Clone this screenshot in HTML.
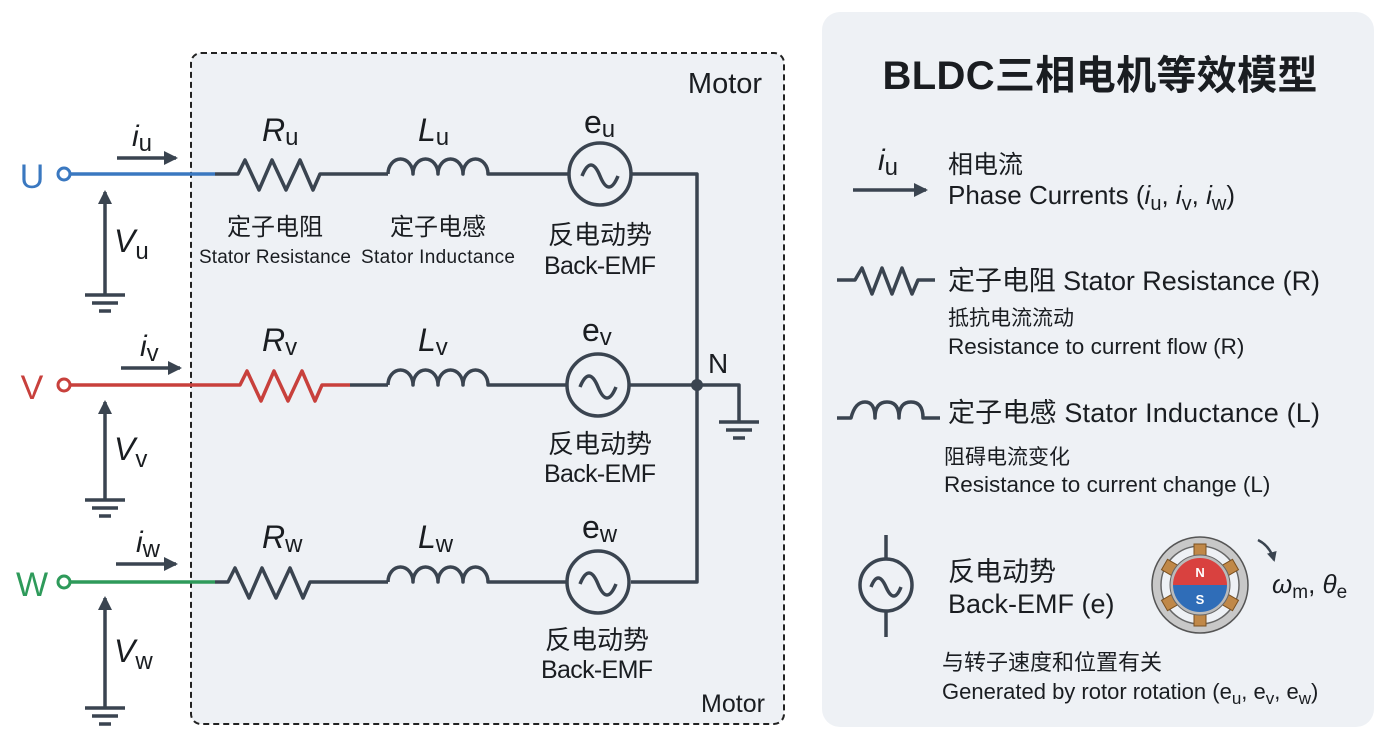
<!DOCTYPE html>
<html><head><meta charset="utf-8"><style>
body{margin:0;background:#fff}
text{font-family:"Liberation Sans","Noto Sans CJK SC",sans-serif;fill:#1a1d21}
.w{stroke:#3a4450;stroke-width:3.5;fill:none;stroke-linejoin:round}
.it{font-style:italic}
</style></head><body>
<svg width="1400" height="750" viewBox="0 0 1400 750" xmlns="http://www.w3.org/2000/svg">
<defs>
<marker id="ah" markerWidth="10" markerHeight="10" refX="8" refY="5" orient="auto" markerUnits="userSpaceOnUse"><path d="M0,0 L10,5 L0,10 Z" fill="#3a4450"/></marker>
<marker id="ah2" markerWidth="14" markerHeight="14" refX="12" refY="7" orient="auto" markerUnits="userSpaceOnUse"><path d="M0,0 L14,7 L0,14 Z" fill="#3a4450"/></marker>
</defs>
<rect x="822" y="12" width="552" height="715" rx="18" fill="#eef1f5"/>
<rect x="191" y="53" width="593" height="671" rx="10" fill="#eef1f5" stroke="#222" stroke-width="2" stroke-dasharray="6,4"/>
<text x="725" y="93" font-size="29" text-anchor="middle">Motor</text>
<text x="733" y="712" font-size="25" text-anchor="middle">Motor</text>

<!-- U row -->
<g>
<circle cx="64" cy="174" r="6" fill="#fff" stroke="#3a78c0" stroke-width="3"/>
<text x="32" y="188" font-size="34" text-anchor="middle" style="fill:#3a78c0">U</text>
<line x1="70" y1="174" x2="215" y2="174" stroke="#3a78c0" stroke-width="3.5"/>
<polyline class="w" points="215,174 238,174 245,160 259,190 272,160 286,190 300,160 313,190 320,174 388,174"/>
<path class="w" d="M388,174 a12.5,15 0 0 1 25,0 a12.5,15 0 0 1 25,0 a12.5,15 0 0 1 25,0 a12.5,15 0 0 1 25,0 L569,174"/>
<circle class="w" cx="600" cy="174" r="31"/>
<path class="w" d="M582,176 q9,-22 18,0 t18,0"/>
<polyline class="w" points="631,174 697,174 697,582 631,582"/>
<line x1="117" y1="158" x2="176" y2="158" class="w" marker-end="url(#ah2)"/>
<text x="132" y="146" font-size="30"><tspan class="it">i</tspan><tspan font-size="24" dy="5">u</tspan></text>
<line x1="105" y1="295" x2="105" y2="192" class="w" marker-end="url(#ah2)"/>
<text x="114" y="252" font-size="32"><tspan class="it">V</tspan><tspan font-size="24" dy="7">u</tspan></text>
<path class="w" d="M85,295 h40 M92,303 h26 M99,311 h12"/>
<text x="262" y="141" font-size="32"><tspan class="it">R</tspan><tspan font-size="24" dy="4">u</tspan></text>
<text x="418" y="141" font-size="32"><tspan class="it">L</tspan><tspan font-size="24" dy="4">u</tspan></text>
<text x="584" y="133" font-size="32">e<tspan font-size="24" dy="4">u</tspan></text>
<text x="275" y="235" font-size="24" text-anchor="middle">定子电阻</text>
<text x="275" y="263" font-size="19" text-anchor="middle" textLength="152">Stator Resistance</text>
<text x="438" y="235" font-size="24" text-anchor="middle">定子电感</text>
<text x="438" y="263" font-size="19" text-anchor="middle" textLength="154">Stator Inductance</text>
<text x="600" y="244" font-size="26" text-anchor="middle">反电动势</text>
<text x="600" y="274" font-size="25" text-anchor="middle" textLength="112">Back-EMF</text>
</g>

<!-- V row -->
<g>
<circle cx="64" cy="385" r="6" fill="#fff" stroke="#c8403c" stroke-width="3"/>
<text x="32" y="399" font-size="34" text-anchor="middle" style="fill:#c8403c">V</text>
<polyline points="70,385 240,385 247,371 261,401 274,371 288,401 302,371 315,401 322,385 350,385" fill="none" stroke="#c8403c" stroke-width="3.5" stroke-linejoin="round"/>
<line class="w" x1="350" y1="385" x2="388" y2="385"/>
<path class="w" d="M388,385 a12.5,15 0 0 1 25,0 a12.5,15 0 0 1 25,0 a12.5,15 0 0 1 25,0 a12.5,15 0 0 1 25,0 L567,385"/>
<circle class="w" cx="598" cy="385" r="31"/>
<path class="w" d="M580,387 q9,-22 18,0 t18,0"/>
<line class="w" x1="629" y1="385" x2="697" y2="385"/>
<circle cx="697" cy="385" r="6" fill="#3a4450"/>
<polyline class="w" points="697,385 739,385 739,422"/>
<path class="w" d="M719,422 h40 M726,430 h26 M733,438 h12"/>
<text x="708" y="373" font-size="28">N</text>
<line x1="121" y1="368" x2="180" y2="368" class="w" marker-end="url(#ah2)"/>
<text x="140" y="356" font-size="30"><tspan class="it">i</tspan><tspan font-size="24" dy="5">v</tspan></text>
<line x1="105" y1="500" x2="105" y2="402" class="w" marker-end="url(#ah2)"/>
<text x="114" y="460" font-size="32"><tspan class="it">V</tspan><tspan font-size="24" dy="7">v</tspan></text>
<path class="w" d="M85,500 h40 M92,508 h26 M99,516 h12"/>
<text x="262" y="351" font-size="32"><tspan class="it">R</tspan><tspan font-size="24" dy="4">v</tspan></text>
<text x="418" y="351" font-size="32"><tspan class="it">L</tspan><tspan font-size="24" dy="4">v</tspan></text>
<text x="582" y="341" font-size="32">e<tspan font-size="24" dy="4">v</tspan></text>
<text x="600" y="453" font-size="26" text-anchor="middle">反电动势</text>
<text x="600" y="482" font-size="25" text-anchor="middle" textLength="112">Back-EMF</text>
</g>

<!-- W row -->
<g>
<circle cx="64" cy="582" r="6" fill="#fff" stroke="#2e9a5a" stroke-width="3"/>
<text x="32" y="596" font-size="34" text-anchor="middle" style="fill:#2e9a5a">W</text>
<line x1="70" y1="582" x2="215" y2="582" stroke="#2e9a5a" stroke-width="3.5"/>
<polyline class="w" points="215,582 228,582 235,568 249,598 262,568 276,598 290,568 303,598 310,582 388,582"/>
<path class="w" d="M388,582 a12.5,15 0 0 1 25,0 a12.5,15 0 0 1 25,0 a12.5,15 0 0 1 25,0 a12.5,15 0 0 1 25,0 L567,582"/>
<circle class="w" cx="598" cy="582" r="31"/>
<path class="w" d="M580,584 q9,-22 18,0 t18,0"/>
<line x1="116" y1="564" x2="176" y2="564" class="w" marker-end="url(#ah2)"/>
<text x="136" y="552" font-size="30"><tspan class="it">i</tspan><tspan font-size="24" dy="5">w</tspan></text>
<line x1="105" y1="708" x2="105" y2="598" class="w" marker-end="url(#ah2)"/>
<text x="114" y="662" font-size="32"><tspan class="it">V</tspan><tspan font-size="24" dy="7">w</tspan></text>
<path class="w" d="M85,708 h40 M92,716 h26 M99,724 h12"/>
<text x="262" y="548" font-size="32"><tspan class="it">R</tspan><tspan font-size="24" dy="4">w</tspan></text>
<text x="418" y="548" font-size="32"><tspan class="it">L</tspan><tspan font-size="24" dy="4">w</tspan></text>
<text x="582" y="538" font-size="32">e<tspan font-size="24" dy="4">w</tspan></text>
<text x="597" y="649" font-size="26" text-anchor="middle">反电动势</text>
<text x="597" y="678" font-size="25" text-anchor="middle" textLength="112">Back-EMF</text>
</g>

<!-- Right panel -->
<text x="1100" y="89" font-size="40" font-weight="bold" text-anchor="middle" textLength="435">BLDC三相电机等效模型</text>
<line x1="853" y1="190" x2="926" y2="190" class="w" marker-end="url(#ah2)"/>
<text x="878" y="170" font-size="30"><tspan class="it">i</tspan><tspan font-size="24" dy="5">u</tspan></text>
<text x="948" y="173" font-size="25">相电流</text>
<text x="948" y="204" font-size="26">Phase Currents (<tspan class="it">i</tspan><tspan font-size="20" dy="6">u</tspan><tspan dy="-6">, </tspan><tspan class="it">i</tspan><tspan font-size="20" dy="6">v</tspan><tspan dy="-6">, </tspan><tspan class="it">i</tspan><tspan font-size="20" dy="6">w</tspan><tspan dy="-6">)</tspan></text>

<polyline class="w" points="837,280 855,280 862,268 872,294 882,268 892,294 902,268 912,294 918,280 935,280"/>
<text x="948" y="290" font-size="27" textLength="372">定子电阻 Stator Resistance (R)</text>
<text x="948" y="325" font-size="21">抵抗电流流动</text>
<text x="948" y="354" font-size="22.5">Resistance to current flow (R)</text>

<path class="w" d="M837,418 h14 q4,-16 14,-16 q10,0 10,16 q0,-16 12,-16 q12,0 12,16 q0,-16 12,-16 q12,0 12,16 h17"/>
<text x="948" y="422" font-size="27" textLength="372">定子电感 Stator Inductance (L)</text>
<text x="944" y="464" font-size="21">阻碍电流变化</text>
<text x="944" y="492" font-size="22.5">Resistance to current change (L)</text>

<circle class="w" cx="886" cy="585" r="26"/>
<path class="w" d="M886,535 v24 M886,611 v26 M871,587 q7,-18 15,0 t15,0"/>
<text x="948" y="581" font-size="27">反电动势</text>
<text x="948" y="613" font-size="27">Back-EMF (e)</text>

<g transform="translate(1200,585)">
<circle r="48" fill="#c8c8c8" stroke="#555" stroke-width="1.5"/>
<circle r="39" fill="#eef1f5" stroke="#666" stroke-width="1.5"/>
<g fill="#c08848" stroke="#7a5020" stroke-width="1">
<rect x="-6" y="-41" width="12" height="12" transform="rotate(0)"/>
<rect x="-6" y="-41" width="12" height="12" transform="rotate(60)"/>
<rect x="-6" y="-41" width="12" height="12" transform="rotate(120)"/>
<rect x="-6" y="-41" width="12" height="12" transform="rotate(180)"/>
<rect x="-6" y="-41" width="12" height="12" transform="rotate(240)"/>
<rect x="-6" y="-41" width="12" height="12" transform="rotate(300)"/>
</g>
<circle r="30" fill="#bbb" stroke="#666" stroke-width="1"/>
<path d="M-27,0 A27,27 0 0 1 27,0 Z" fill="#d9413f"/>
<path d="M-27,0 A27,27 0 0 0 27,0 Z" fill="#2f6db8"/>
<text x="0" y="-8" font-size="13" font-weight="bold" text-anchor="middle" style="fill:#fff">N</text>
<text x="0" y="19" font-size="13" font-weight="bold" text-anchor="middle" style="fill:#fff">S</text>
</g>
<path d="M1258,540 q12,6 16,20" stroke="#3a4450" stroke-width="2.5" fill="none" marker-end="url(#ah)"/>
<text x="1272" y="593" font-size="26"><tspan class="it">ω</tspan><tspan font-size="19" dy="5">m</tspan><tspan dy="-5">, </tspan><tspan class="it">θ</tspan><tspan font-size="19" dy="5">e</tspan></text>
<text x="942" y="670" font-size="22">与转子速度和位置有关</text>
<text x="942" y="699" font-size="22">Generated by rotor rotation (e<tspan font-size="17" dy="5">u</tspan><tspan dy="-5">, e</tspan><tspan font-size="17" dy="5">v</tspan><tspan dy="-5">, e</tspan><tspan font-size="17" dy="5">w</tspan><tspan dy="-5">)</tspan></text>
</svg>
</body></html>
